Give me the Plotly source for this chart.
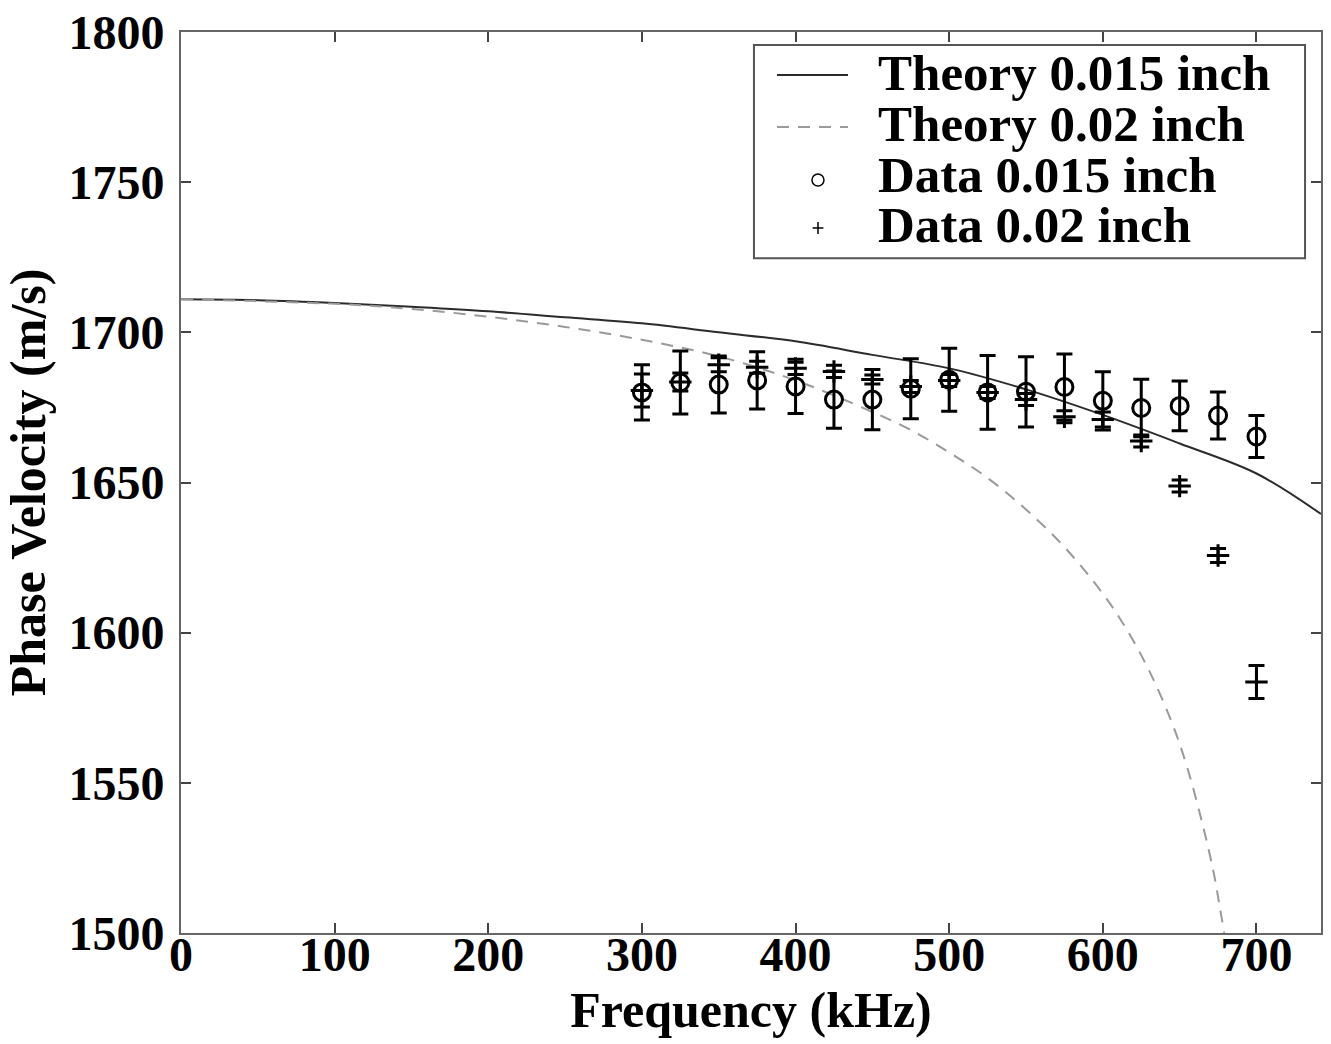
import plotly.graph_objects as go

# Theory curves
theory_015_f = [0, 50, 100, 150, 200, 250, 300, 350, 400, 450, 500, 550, 600, 650, 700, 742]
theory_015_v = [1711, 1710.7, 1709.8, 1708.5, 1707, 1705, 1703, 1700, 1697, 1692.5, 1688, 1681,
                1672.5, 1663, 1653, 1639.5]
theory_02_f = [0, 100, 150, 200, 250, 300, 350, 400, 450, 475, 500, 525, 550, 575, 600, 615,
               630, 645, 655, 665, 672, 676, 679]
theory_02_v = [1711, 1709.5, 1707.8, 1705.2, 1701.8, 1697.5, 1692, 1684, 1673.5, 1667.5, 1660,
               1651.5, 1641, 1628.5, 1613, 1601.5, 1587.5, 1570, 1555, 1536, 1520.5, 1509, 1500]

# Measured data
freq = [300, 325, 350, 375, 400, 425, 450, 475, 500, 525, 550, 575, 600, 625, 650, 675, 700]
data_015_v = [1680, 1683.3, 1682.6, 1684, 1682, 1677.6, 1677.6, 1681.2, 1684.2, 1680, 1680.2,
              1681.8, 1677.2, 1674.8, 1675.5, 1672.3, 1665.3]
data_015_err = [9.2, 10.5, 9.5, 9.5, 9, 9.5, 10, 10, 10.5, 12.3, 11.7, 11, 9.7, 9.6, 8.3, 7.8, 7]
data_02_v = [1680.6, 1683.5, 1689.2, 1688.4, 1688, 1687, 1684.3, 1682, 1684, 1680, 1677.6,
             1671.9, 1671, 1663.8, 1648.8, 1625.7, 1583.6]
data_02_err = [5.5, 3, 2.3, 2, 2, 2, 1.5, 2, 2, 2, 2, 2, 2.5, 2, 2, 2.3, 5.5]

legend_labels = ["Theory 0.015 inch", "Theory 0.02 inch", "Data 0.015 inch", "Data 0.02 inch"]

x_ticks = [0, 100, 200, 300, 400, 500, 600, 700]
y_ticks = [1500, 1550, 1600, 1650, 1700, 1750, 1800]

FONT = "Liberation Serif"

fig = go.Figure()

fig.add_trace(go.Scatter(x=theory_015_f, y=theory_015_v, mode="lines", name=legend_labels[0],
                         line=dict(color="#2b2b2b", width=2, shape="spline")))
fig.add_trace(go.Scatter(x=theory_02_f, y=theory_02_v, mode="lines", name=legend_labels[1],
                         line=dict(color="#9a9a9a", width=2, dash="12px,9px", shape="spline")))
fig.add_trace(go.Scatter(x=freq, y=data_015_v, mode="markers", name=legend_labels[2],
                         marker=dict(symbol="circle-open", size=17, color="black",
                                     line=dict(width=3, color="black")),
                         error_y=dict(type="data", array=data_015_err, visible=True,
                                      color="black", thickness=3, width=8)))
fig.add_trace(go.Scatter(x=freq, y=data_02_v, mode="markers", name=legend_labels[3],
                         marker=dict(symbol="cross-thin", size=16, color="black",
                                     line=dict(width=3, color="black")),
                         error_y=dict(type="data", array=data_02_err, visible=True,
                                      color="black", thickness=3, width=8)))

axis_common = dict(showline=True, linecolor="#666666", linewidth=2, mirror="ticks",
                   ticks="inside", ticklen=10, tickwidth=2, tickcolor="#444444",
                   showgrid=False, zeroline=False, automargin=False,
                   ticklabeloverflow="allow",
                   tickfont=dict(family=FONT, size=48, color="black", weight="bold"))

# ---- legend box drawn in paper coordinates (matches reference layout) ----
shapes = [
    dict(type="rect", xref="paper", yref="paper", x0=0.5026, x1=0.986, y0=0.749, y1=0.9856,
         line=dict(color="#555555", width=2), fillcolor="white", layer="above"),
    dict(type="line", xref="paper", yref="paper", x0=0.5228, x1=0.5851, y0=0.9523, y1=0.9523,
         line=dict(color="#2b2b2b", width=2), layer="above"),
    dict(type="line", xref="paper", yref="paper", x0=0.5228, x1=0.5851, y0=0.8946, y1=0.8946,
         line=dict(color="#9a9a9a", width=2, dash="12px,9px"), layer="above"),
    dict(type="circle", xref="paper", yref="paper", x0=0.5535, x1=0.5640, y0=0.8291, y1=0.8424,
         line=dict(color="black", width=1.5), layer="above"),
    dict(type="line", xref="paper", yref="paper", x0=0.5540, x1=0.5635, y0=0.7825, y1=0.7825,
         line=dict(color="black", width=1.5), layer="above"),
    dict(type="line", xref="paper", yref="paper", x0=0.55875, x1=0.55875, y0=0.7758, y1=0.7891,
         line=dict(color="black", width=1.5), layer="above"),
]
legend_y = [0.9545, 0.8979, 0.8413, 0.7858]
annotations = [
    dict(text=lbl, xref="paper", yref="paper", x=0.6096, y=yy, xanchor="left", yanchor="middle",
         showarrow=False, font=dict(family=FONT, size=51, color="black", weight="bold"))
    for lbl, yy in zip(legend_labels, legend_y)
]

fig.update_layout(
    width=1331, height=1044,
    paper_bgcolor="white", plot_bgcolor="white",
    margin=dict(l=181, r=10, t=32, b=111),
    font=dict(family=FONT, color="black", weight="bold"),
    xaxis=dict(range=[0, 742], tickvals=x_ticks, ticktext=[str(t) for t in x_ticks],
               ticklabelstandoff=-22,
               title=dict(text="Frequency (kHz)", font=dict(family=FONT, size=50, weight="bold"),
                          standoff=12),
               **axis_common),
    yaxis=dict(range=[1500, 1800], tickvals=y_ticks, ticktext=[str(t) for t in y_ticks],
               ticklabelstandoff=5,
               title=dict(text="Phase Velocity (m/s)", font=dict(family=FONT, size=50, weight="bold"),
                          standoff=9),
               **axis_common),
    showlegend=False,
    shapes=shapes,
    annotations=annotations,
)

# remove the default 8px page margin so the figure fills the window exactly
fig.write_html("out.html", config={"displayModeBar": False},
               post_script="document.body.style.margin='0';")
